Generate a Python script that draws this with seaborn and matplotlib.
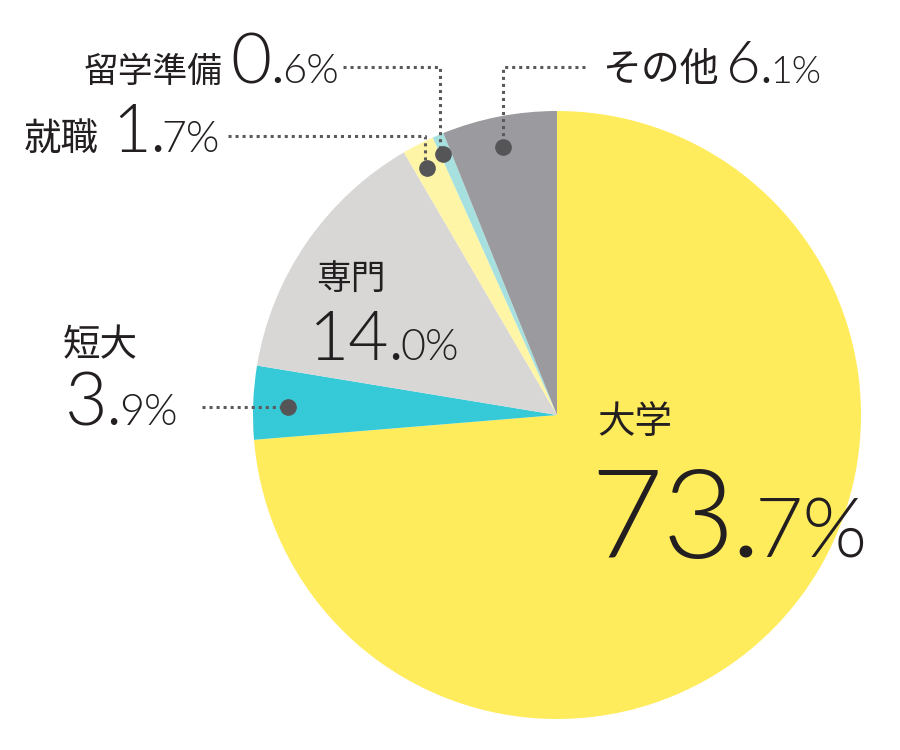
import matplotlib
matplotlib.use('Agg')
import matplotlib.pyplot as plt
import seaborn as sns

# data
labels = ['大学', '短大', '専門', '就職', '留学準備', 'その他']
values = [73.7, 3.9, 14.0, 1.7, 0.6, 6.1]
colors = ['#FFEC5C', '#36C9D7', '#D8D7D6', '#FFF5A6', '#A6E0DF', '#9B9B9F']

sns.set_theme(style='white')
plt.rcParams['font.family'] = ['Noto Sans CJK JP', 'DejaVu Sans']

W, H = 900, 750
fig = plt.figure(figsize=(9, 7.5), dpi=100)
ax = fig.add_axes([0, 0, 1, 1])

def Y(y):
    # image y (from top) -> data y
    return H - y

cx, cy, r = 557, 415, 304
ax.pie(values, colors=colors, startangle=90, counterclock=False,
       center=(cx, Y(cy)), radius=r, frame=True,
       wedgeprops=dict(linewidth=0))
ax.set_xlim(0, W)
ax.set_ylim(0, H)
ax.set_aspect('equal')
ax.axis('off')

ink = '#231F20'
numfont = ['Lato', 'DejaVu Sans']
renderer = fig.canvas.get_renderer()

def value_text(x, y, val, big, small, gap=1):
    s = f'{val:.1f}'
    whole, dec = s.split('.')
    t = ax.text(x, Y(y), whole, fontsize=big, family=numfont, fontweight=300,
                color=ink, va='baseline', ha='left')
    bb = t.get_window_extent(renderer)
    x2 = ax.transData.inverted().transform((bb.x1, 0))[0]
    # decimal point a bit heavier, like the reference
    d = ax.text(x2 + gap, Y(y), '.', fontsize=small, family=numfont,
                fontweight=700, color=ink, va='baseline', ha='left')
    bb = d.get_window_extent(renderer)
    x3 = ax.transData.inverted().transform((bb.x1, 0))[0]
    ax.text(x3, Y(y), dec + '%', fontsize=small, family=numfont,
            fontweight=300, color=ink, va='baseline', ha='left')

def name_text(x, y, s, size):
    ax.text(x, Y(y), s, fontsize=size, color=ink, va='baseline', ha='left')

def leader(pts, dot):
    xs = [p[0] for p in pts]
    ys = [Y(p[1]) for p in pts]
    ax.plot(xs, ys, color='#5A5A5C', lw=2.2, ls=(0, (1, 1.3)), solid_capstyle='round')
    ax.plot(dot[0], Y(dot[1]), 'o', color='#555557', ms=11)

# 大学
name_text(597, 433, labels[0], 27)
value_text(590, 558, values[0], 90, 60, gap=0)
# 専門
name_text(316, 289, labels[2], 25)
value_text(309, 360, values[2], 50, 31)
# 短大
name_text(63, 356, labels[1], 27)
value_text(65, 425, values[1], 53, 31)
leader([(202, 407), (282, 407)], (288, 407))
# 就職
name_text(24, 150, labels[3], 27)
value_text(112, 152, values[3], 48, 31)
leader([(228, 136), (425, 136), (425, 162)], (427, 168))
# 留学準備
name_text(84, 82, labels[4], 25)
value_text(230, 83, values[4], 51, 30)
leader([(343, 67), (440, 67), (440, 148)], (443, 154))
# その他
name_text(602, 81, labels[5], 28)
value_text(726, 83, values[5], 43, 27)
leader([(585, 67), (503, 67), (503, 141)], (503, 147))

fig.savefig('out.png', dpi=100)
